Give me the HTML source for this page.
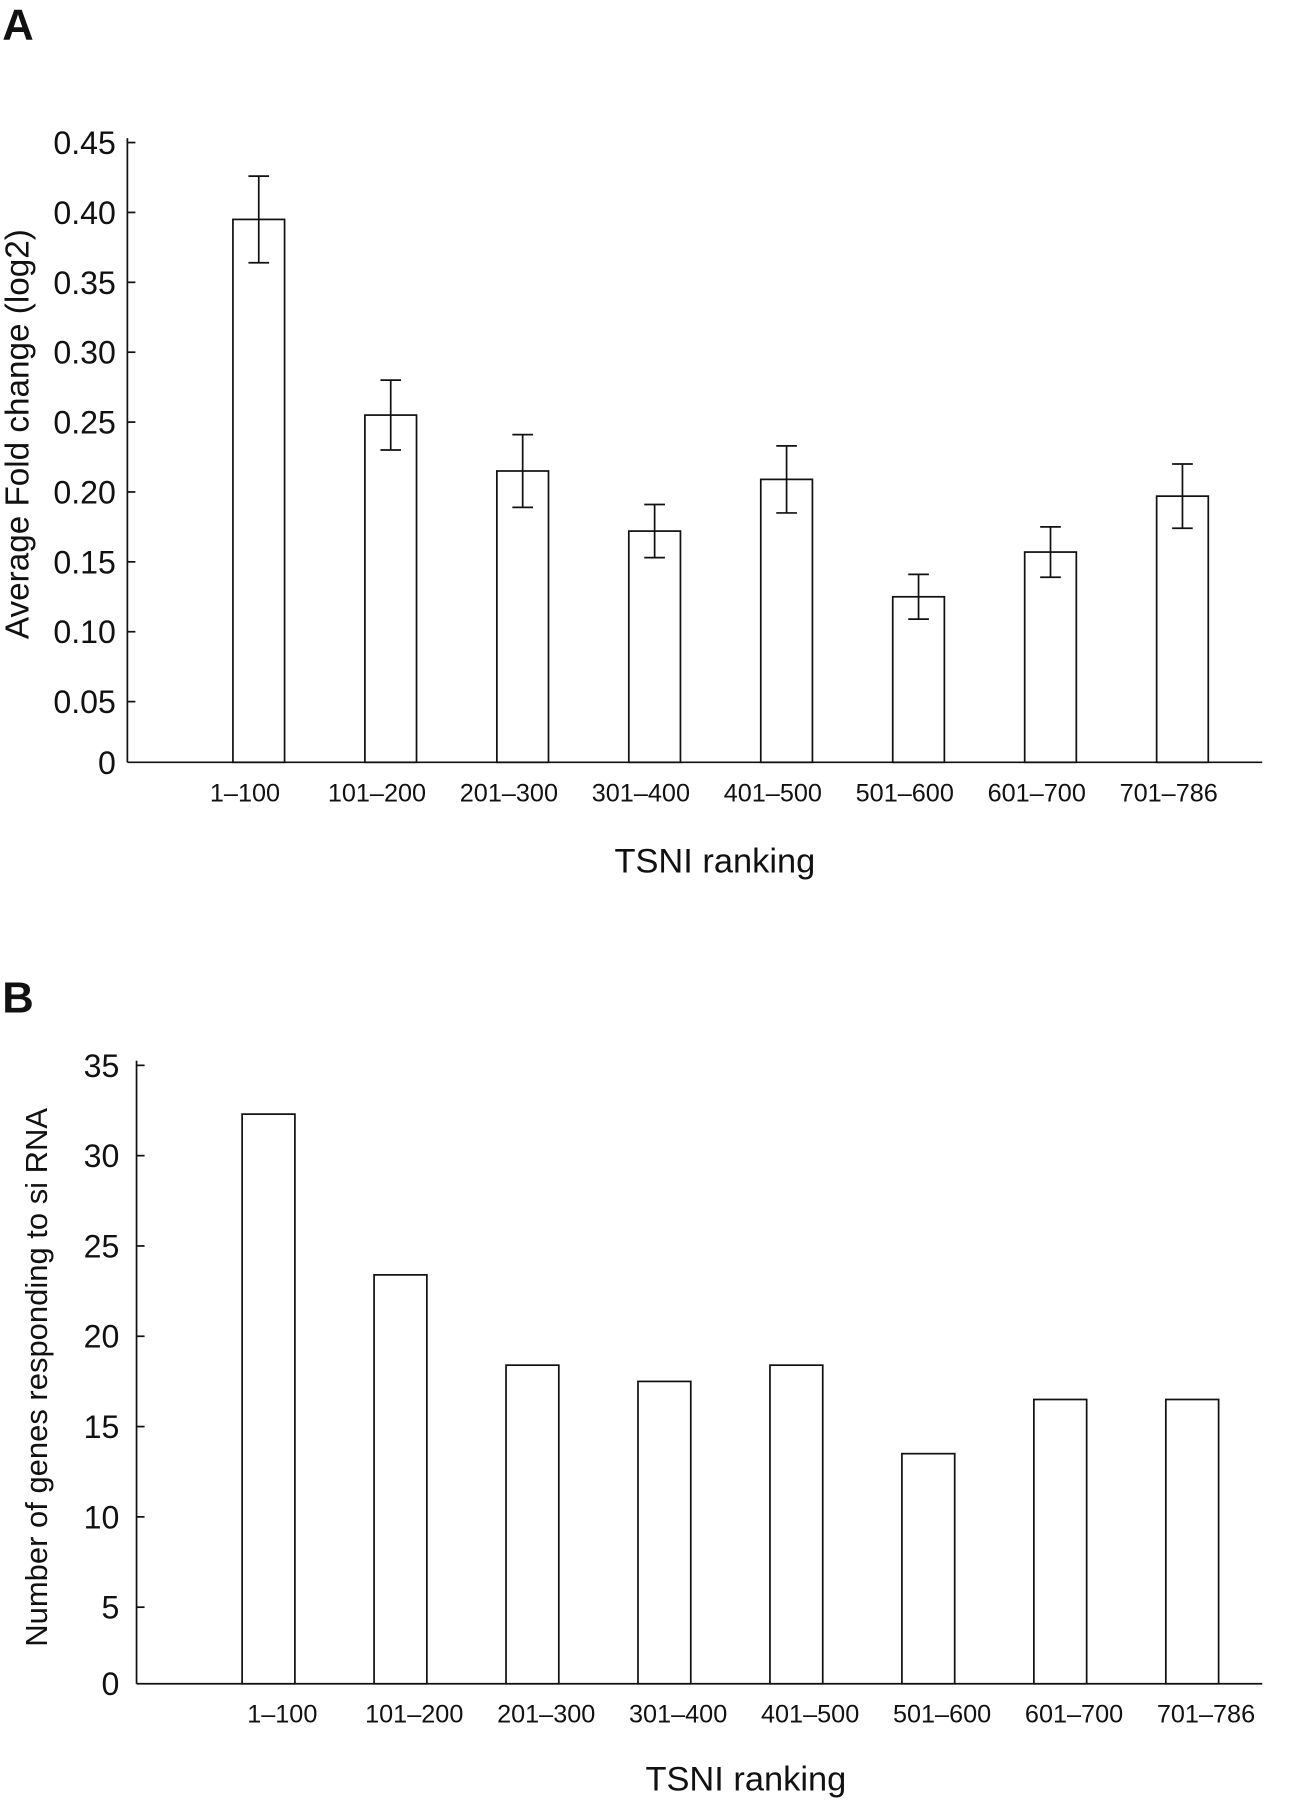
<!DOCTYPE html>
<html><head><meta charset="utf-8"><style>
html,body{margin:0;padding:0;background:#fff;}
svg{display:block;}
text{font-family:"Liberation Sans",sans-serif;fill:#111;}
</style></head><body>
<svg id="fig" width="1315" height="1800" viewBox="0 0 1146 1568" xmlns="http://www.w3.org/2000/svg">
<g id="panelA"></g>
<g id="panelB"></g>
</svg>
<script>
const categories = ["1\u2013100","101\u2013200","201\u2013300","301\u2013400","401\u2013500","501\u2013600","601\u2013700","701\u2013786"];
const foldValues = [0.395,0.255,0.215,0.172,0.209,0.125,0.157,0.197];
const foldErrors = [0.031,0.025,0.026,0.019,0.024,0.016,0.018,0.023];
const foldTicks = [0.45,0.40,0.35,0.30,0.25,0.20,0.15,0.10,0.05,0];
const foldTickLabels = ["0.45","0.40","0.35","0.30","0.25","0.20","0.15","0.10","0.05","0"];
const geneCounts = [32.3,23.4,18.4,17.5,18.4,13.5,16.5,16.5];
const geneTicks = [35,30,25,20,15,10,5,0];
const geneTickLabels = ["35","30","25","20","15","10","5","0"];

const NS="http://www.w3.org/2000/svg";
function mk(parent,tag,attrs){const e=document.createElementNS(NS,tag);for(const k in attrs)e.setAttribute(k,attrs[k]);parent.appendChild(e);return e;}

// Panel A
const gA=document.getElementById('panelA');
const yA=v=>672-v*1218;
const axA=111, baseA=664;
function xA(i){return 203+115*i;}
let t=mk(gA,'text',{x:2,y:34,'font-size':38,'font-weight':'bold'});t.textContent='A';


let l=mk(gA,'line',{x1:axA,y1:120,x2:axA,y2:baseA,stroke:'#111','stroke-width':1.5});


l=mk(gA,'line',{x1:axA,y1:baseA,x2:1100,y2:baseA,stroke:'#111','stroke-width':1.5});


foldTicks.forEach((v,i)=>{
  const y=v===0?baseA:yA(v);
  if(v!==0){mk(gA,'line',{x1:axA,y1:y,x2:axA+7,y2:y,stroke:'#111','stroke-width':1.5});}
  const tx=mk(gA,'text',{x:101,y:y+10,'font-size':28,'text-anchor':'end'});tx.textContent=foldTickLabels[i];
  
  
});
foldValues.forEach((v,i)=>{
  const x=xA(i), top=yA(v);
  const r=mk(gA,'rect',{x:x,y:top,width:45,height:baseA-top,fill:'#fff',stroke:'#111','stroke-width':1.5});
  
  
  const cx=x+22.5, hi=yA(v+foldErrors[i]), lo=yA(v-foldErrors[i]);
  const eb=mk(gA,'path',{d:`M${cx},${hi}V${lo}M${cx-9},${hi}H${cx+9}M${cx-9},${lo}H${cx+9}`,stroke:'#111','stroke-width':1.5,fill:'none'});
  
  
  const tx=mk(gA,'text',{x:cx-12,y:698,'font-size':22,'text-anchor':'middle'});tx.textContent=categories[i];
  
  
});
t=mk(gA,'text',{x:0,y:0,'font-size':29,'text-anchor':'middle',transform:'translate(25,378) rotate(-90)'});t.textContent='Average  Fold change (log2)';


t=mk(gA,'text',{x:623,y:760,'font-size':30,'text-anchor':'middle'});t.textContent='TSNI ranking';



// Panel B
const gB=document.getElementById('panelB');
const yB=v=>1479-v*15.74;
const axB=119, baseB=1467;
function xB(i){return 211+115*i;}
t=mk(gB,'text',{x:2,y:882,'font-size':38,'font-weight':'bold'});t.textContent='B';


l=mk(gB,'line',{x1:axB,y1:924,x2:axB,y2:baseB,stroke:'#111','stroke-width':1.5});


l=mk(gB,'line',{x1:axB,y1:baseB,x2:1100,y2:baseB,stroke:'#111','stroke-width':1.5});


geneTicks.forEach((v,i)=>{
  const y=v===0?baseB:yB(v);
  if(v!==0){mk(gB,'line',{x1:axB,y1:y,x2:axB+7,y2:y,stroke:'#111','stroke-width':1.5});}
  const tx=mk(gB,'text',{x:104,y:y+10,'font-size':28,'text-anchor':'end'});tx.textContent=geneTickLabels[i];
  
  
});
geneCounts.forEach((v,i)=>{
  const x=xB(i), top=yB(v);
  const r=mk(gB,'rect',{x:x,y:top,width:46,height:baseB-top,fill:'#fff',stroke:'#111','stroke-width':1.5});
  
  
  const tx=mk(gB,'text',{x:x+23+12,y:1501,'font-size':22,'text-anchor':'middle'});tx.textContent=categories[i];
  
  
});
t=mk(gB,'text',{x:0,y:0,'font-size':27,'text-anchor':'middle',transform:'translate(41,1200) rotate(-90)'});t.textContent='Number of genes responding to si RNA';


t=mk(gB,'text',{x:650,y:1560,'font-size':30,'text-anchor':'middle'});t.textContent='TSNI ranking';


</script>
</body></html>
